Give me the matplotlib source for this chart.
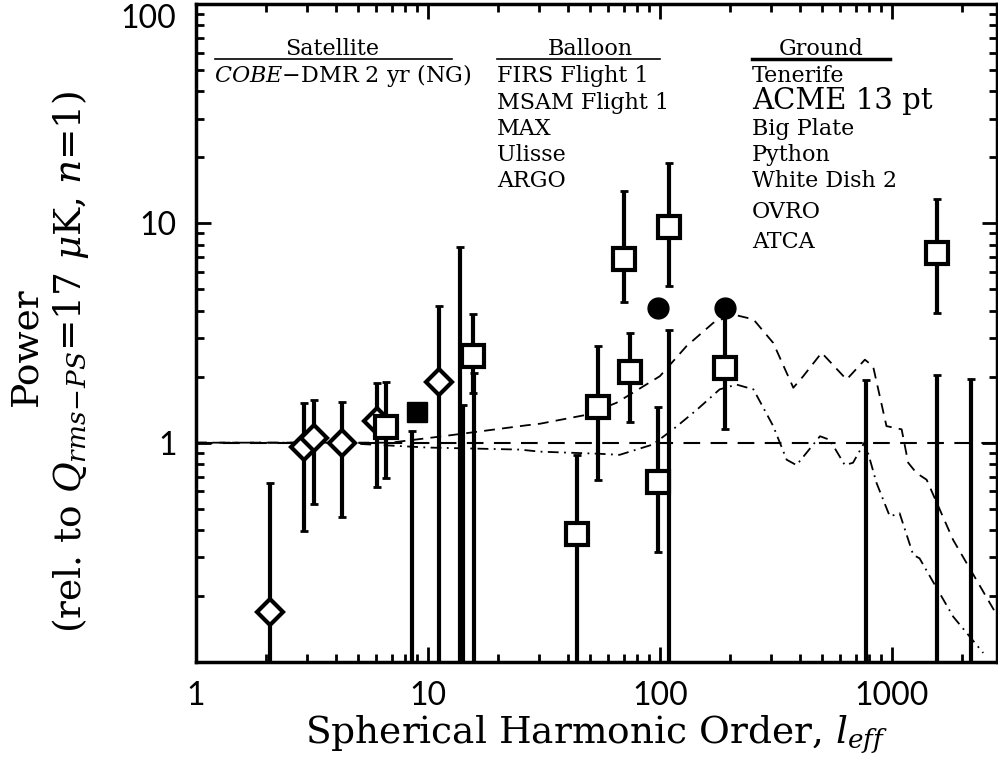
import matplotlib
matplotlib.use("Agg")
import matplotlib.pyplot as plt
import numpy as np

plt.rcParams['font.family'] = ['DejaVu Serif']
plt.rcParams['mathtext.fontset'] = 'dejavuserif'

# COBE-DMR (diamantes)
cobe_l = [2.08, 2.93, 3.23, 4.26, 6.01, 11.2]
cobe_p = [0.169, 0.96, 1.05, 1.0, 1.25, 1.89]
cobe_lo = [0.05, 0.396, 0.526, 0.46, 0.625, 0.05]
cobe_hi = [0.656, 1.51, 1.56, 1.53, 1.87, 4.22]

# otros experimentos (cuadrados abiertos)
sq_l = [6.57, 15.6, 43.9, 54.1, 70.2, 74.5, 97.7, 109, 190, 1560]
sq_p = [1.18, 2.48, 0.384, 1.46, 6.9, 2.09, 0.664, 9.6, 2.19, 7.35]
sq_lo = [0.69, 1.69, 0.05, 0.678, 4.37, 1.24, 0.317, 5.2, 1.15, 3.91]
sq_hi = [1.89, 3.87, 0.88, 2.75, 14.0, 3.17, 1.45, 18.9, 3.77, 12.97]

# cuadrado lleno y circulos llenos
fsq_l = [8.95]
fsq_p = [1.375]
circ_l = [98.4, 190]
circ_p = [4.1, 4.13]

# barras que bajan hasta el borde inferior
lim_l = [8.5, 13.8, 14.1, 15.8, 109, 773, 1560, 2204]
lim_top = [1.126, 7.83, 1.49, 2.08, 3.28, 1.94, 2.04, 1.95]

# curvas teoricas
dash_l = [1, 5, 6.9, 11.6, 26.6, 30.4, 48.3, 65, 100, 130, 170, 207, 253, 308, 376, 415,
          498, 638, 765, 830, 948, 1102, 1176, 1277, 1412, 1838, 2862]
dash_p = [1.0, 1.0, 1.0, 1.07, 1.2, 1.22, 1.34, 1.52, 2.01, 2.75, 3.52, 3.84, 3.65, 2.85, 1.78, 2.01,
          2.57, 1.94, 2.39, 2.23, 1.19, 1.15, 0.81, 0.727, 0.678, 0.36, 0.161]
dd_l = [1, 4, 10, 24.9, 30.4, 55, 67, 93, 114, 144, 181, 214, 253, 308, 352, 388, 490, 540,
        627, 680, 765, 859, 980, 1080, 1236, 1316, 1838, 2477]
dd_p = [1.0, 1.0, 0.95, 0.93, 0.91, 0.89, 0.88, 0.98, 1.15, 1.41, 1.75, 1.84, 1.75, 1.19, 0.836,
        0.79, 1.07, 1.03, 0.79, 0.81, 1.01, 0.655, 0.461, 0.477, 0.308, 0.297, 0.161, 0.11]

fig = plt.figure(figsize=(9.98, 7.84), dpi=100)
ax = fig.add_axes([0.1964, 0.1556, 0.8026, 0.8393])
ax.set_xscale('log')
ax.set_yscale('log')
ax.set_xlim(1, 2840)
ax.set_ylim(0.1, 100)

# lineas de referencia y curvas
ax.axhline(1, color='k', lw=1.5, dashes=(8, 5))
ax.plot(dash_l, dash_p, color='k', lw=1.3, dashes=(6, 4))
ax.plot(dd_l, dd_p, color='k', lw=1.3, dashes=(6, 3, 1, 3))

# barras de error
def err(x, y, lo, hi):
    y = np.array(y)
    yerr = [y - np.array(lo), np.array(hi) - y]
    ax.errorbar(x, y, yerr=yerr, fmt='none', ecolor='k', elinewidth=3, capsize=3, capthick=2)

err(cobe_l, cobe_p, cobe_lo, cobe_hi)
err(sq_l, sq_p, sq_lo, sq_hi)
err(lim_l, lim_top, [0.05] * len(lim_l), lim_top)

ax.plot(cobe_l, cobe_p, 'D', ms=13, mfc='white', mec='k', mew=3, zorder=5)
ax.plot(sq_l, sq_p, 's', ms=16, mfc='white', mec='k', mew=3, zorder=5)
ax.plot(fsq_l, fsq_p, 's', ms=15, mfc='k', mec='k', zorder=5)
ax.plot(circ_l, circ_p, 'o', ms=15, mfc='k', mec='k', zorder=5)

# ejes estilo IDL
for s in ax.spines.values():
    s.set_linewidth(2.5)
ax.tick_params(which='both', direction='in', top=True, right=True, width=2)
ax.tick_params(which='major', length=11, pad=14)
ax.tick_params(which='minor', length=6)
ax.set_xticks([1, 10, 100, 1000])
ax.set_xticklabels(['1', '10', '100', '1000'])
ax.set_yticks([1, 10, 100])
ax.set_yticklabels(['1', '10', '100'])
for lab in ax.get_xticklabels() + ax.get_yticklabels():
    lab.set_fontfamily(['Lato', 'DejaVu Sans'])
    lab.set_color('black')
    lab.set_fontsize(23)
ax.get_yticklabels()[2].set_va('top')

ax.set_xlabel('Spherical Harmonic Order, $l_{eff}$', fontsize=27, labelpad=2)
fig.text(0.026, 0.558, 'Power', rotation=90, fontsize=27, ha='center', va='center')
fig.text(0.071, 0.538, r'(rel. to $Q_{rms\!-\!PS}$=17 $\mu$K, $n$=1)', rotation=90,
         fontsize=27, ha='center', va='center')

# leyenda de experimentos
fs = 16
tr = ax.transAxes
ax.text(0.17, 0.9225, 'Satellite', transform=tr, fontsize=fs, ha='center')
ax.plot([0.024, 0.32], [0.917, 0.917], color='k', lw=1.2, transform=tr)
ax.text(0.0225, 0.8815, '$COBE$$-$DMR 2 yr (NG)', transform=tr, fontsize=fs)

ax.text(0.4925, 0.9225, 'Balloon', transform=tr, fontsize=fs, ha='center')
ax.plot([0.3758, 0.5793], [0.917, 0.917], color='k', lw=1.2, transform=tr)
balloon = ['FIRS Flight 1', 'MSAM Flight 1', 'MAX', 'Ulisse', 'ARGO']
rows = [0.8815, 0.8404, 0.8009, 0.7614, 0.7219]
for t, yy in zip(balloon, rows):
    ax.text(0.3758, yy, t, transform=tr, fontsize=fs)

ax.text(0.78, 0.9225, 'Ground', transform=tr, fontsize=fs, ha='center')
ax.plot([0.694, 0.866], [0.917, 0.917], color='k', lw=2.5, transform=tr)
ground = ['Tenerife', 'ACME 13 pt', 'Big Plate', 'Python', 'White Dish 2', 'OVRO', 'ATCA']
grows = [0.8815, 0.8404, 0.8009, 0.7614, 0.7219, 0.6748, 0.6292]
for t, yy in zip(ground, grows):
    ax.text(0.6941, yy, t, transform=tr, fontsize=21 if t == 'ACME 13 pt' else fs)

fig.savefig('out.png', dpi=100)
